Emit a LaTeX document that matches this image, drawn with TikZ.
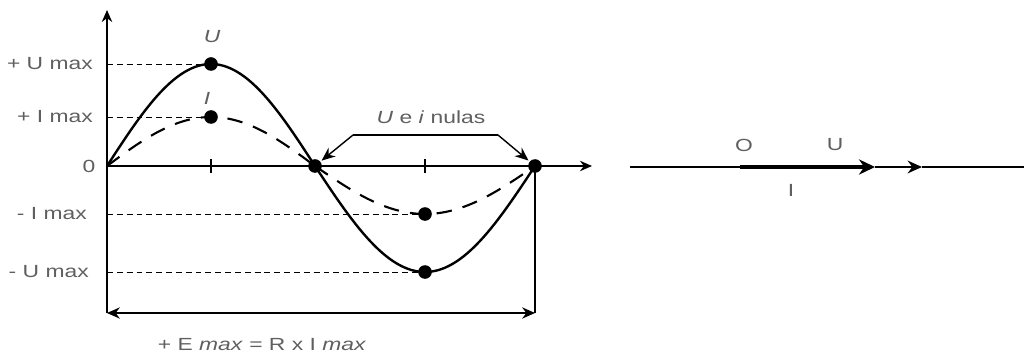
\documentclass[tikz,border=0pt]{standalone}
\usepackage{fontspec}
\setmainfont[FakeStretch=1.3]{Liberation Sans}
\usepackage{xcolor}
\usetikzlibrary{arrows.meta, positioning}
\definecolor{labelgray}{RGB}{95,95,95}

\begin{document}
\begin{tikzpicture}[x=0.025cm, y=-0.025cm,
    lbl/.style={text=labelgray, font=\fontsize{12.5}{14}\selectfont, inner sep=0pt},
    dot/.style={circle, fill=black, inner sep=0pt, minimum size=0.34cm},
    axis/.style={line width=1.2pt, -{Stealth[length=0.3cm, width=0.26cm]}},
    guide/.style={line width=0.55pt, dash pattern=on 4.2pt off 2.8pt},
    ucurve/.style={line width=1.7pt},
    icurve/.style={line width=1.5pt, dash pattern=on 11pt off 8pt},
    pointer/.style={line width=1pt, -{Stealth[length=0.34cm, width=0.28cm]}, shorten >=1pt}
]
    \useasboundingbox (0,0) rectangle (1024,360);

    % axes
    \coordinate (orig) at (107,166);
    \coordinate (lb) at (107,313);
    \coordinate (rb) at (535,313);
    \draw[axis] (lb) -- (107,10);
    \draw[axis] (orig) -- (592,166);
    \draw[line width=1.2pt] (211,159) -- (211,173);
    \draw[line width=1.2pt] (425,159) -- (425,173);

    % curves
    \draw[ucurve] plot[domain=107:315, samples=60, smooth] (\x,{166-102*sin((\x-107)/208*180)});
    \draw[ucurve] plot[domain=315:535, samples=60, smooth] (\x,{166+106*sin((\x-315)/220*180)});
    \draw[icurve] plot[domain=107:315, samples=60, smooth] (\x,{166-49*sin((\x-107)/208*180)});
    \draw[icurve] plot[domain=315:535, samples=60, smooth] (\x,{166+48*sin((\x-315)/220*180)});

    % points
    \node[dot] (umax) at (211,64) {};
    \node[dot] (imax) at (211,117) {};
    \node[dot] (zeroa) at (315,166) {};
    \node[dot] (zerob) at (535,166) {};
    \node[dot] (imin) at (425,214) {};
    \node[dot] (umin) at (425,272) {};

    % level labels
    \node[lbl, anchor=east] (lumax) at (93,64) {+ U max};
    \node[lbl, anchor=east] (limax) at (93,117) {+ I max};
    \node[lbl] (lzero) at (89,166) {0};
    \node[lbl, anchor=east] (limin) at (87,214) {- I max};
    \node[lbl, anchor=east] (lumin) at (89,272) {- U max};
    \draw[guide] (107,64) -- (umax);
    \draw[guide] (107,117) -- (imax);
    \draw[guide] (107,214) -- (imin);
    \draw[guide] (107,272) -- (umin);

    \node[lbl] (tu) at (212,37) {\itshape U};
    \node[lbl] (ti) at (207,98) {\itshape I};

    % zero crossings
    \node[lbl] (nulas) at (431,117) {\textit{U} e \textit{i} nulas};
    \coordinate (bl) at (353,135);
    \coordinate (br) at (498,135);
    \draw[pointer] (bl) -- (zeroa);
    \draw[pointer] (br) -- (zerob);
    \draw[line width=1pt] (bl) -- (br);

    % period
    \draw[line width=1.2pt] (zerob.center) -- (rb);
    \draw[line width=1.2pt, {Stealth[length=0.32cm, width=0.28cm]}-{Stealth[length=0.32cm, width=0.28cm]}] (lb) -- (rb);
    \node[lbl] (emax) at (262,345) {+ E \textit{max} = R x I \textit{max}};

    % phasors
    \coordinate (pstart) at (630,167);
    \coordinate (po) at (740,167);
    \coordinate (pu) at (875,167);
    \coordinate (pi) at (922,167);
    \coordinate (pend) at (1024,167);
    \draw[line width=1.1pt] (pstart) -- (po);
    \draw[line width=1.1pt, -{Stealth[length=0.36cm, width=0.32cm]}] (pu) -- (pi);
    \draw[line width=1.1pt] (pi) -- (pend);
    \draw[line width=3pt, -{Stealth[length=0.4cm, width=0.38cm]}] (po) -- (pu);
    \node[lbl] (lo) at (744,145) {O};
    \node[lbl] (lu) at (835,145) {U};
    \node[lbl] (li) at (791,190) {I};
\end{tikzpicture}
\end{document}
